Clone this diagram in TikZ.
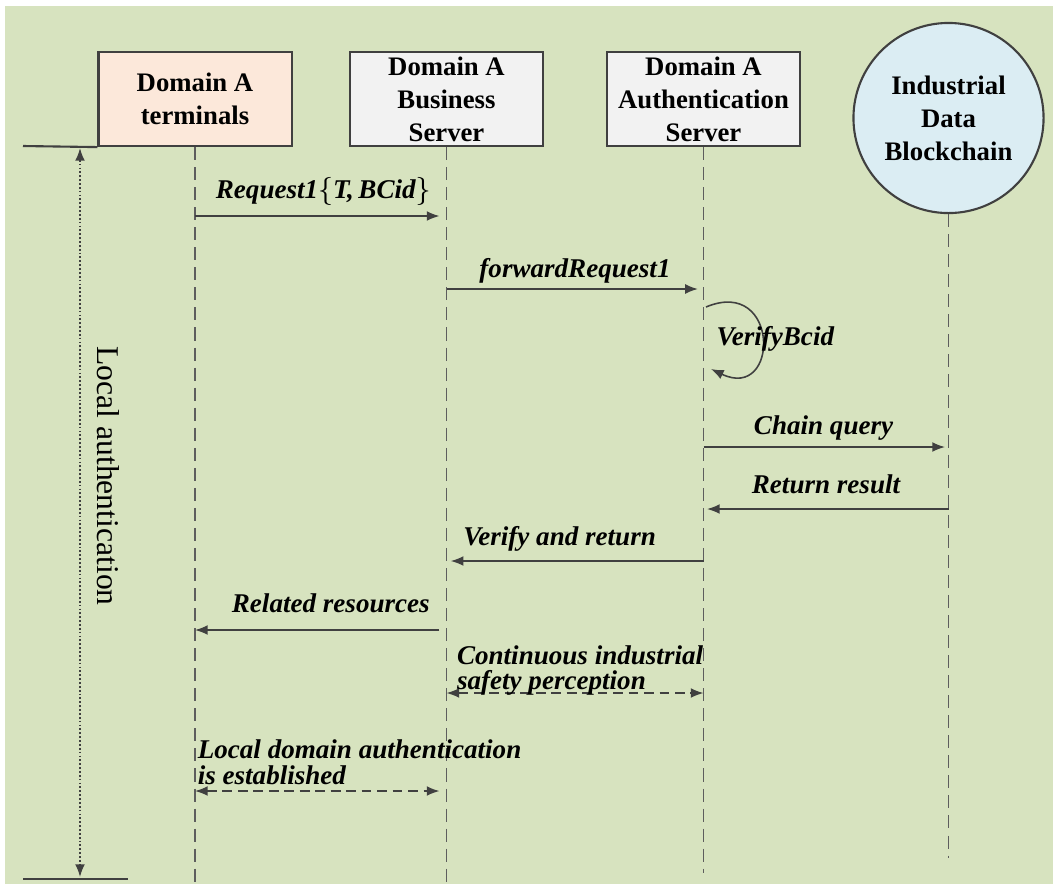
\documentclass[tikz,border=0pt]{standalone}
\usepackage{fontspec}
\setmainfont{Liberation Serif}
\usepackage{tikz}
\usetikzlibrary{arrows.meta}
\definecolor{bggreen}{RGB}{215,227,191}
\definecolor{termfill}{RGB}{252,232,218}
\definecolor{srvfill}{RGB}{242,242,242}
\definecolor{ledgerfill}{RGB}{219,237,243}
\definecolor{linegray}{RGB}{64,64,64}

\begin{document}
\begin{tikzpicture}[x=0.01cm, y=-0.01cm,
	actor/.style={draw=linegray, line width=0.6pt, minimum width=1.93cm, minimum height=0.94cm, inner sep=0pt, align=center, font=\fontsize{7.6}{9.4}\selectfont\bfseries},
	ledger/.style={circle, draw=linegray, line width=0.6pt, fill=ledgerfill, minimum size=1.9cm, inner sep=0pt, align=center, font=\fontsize{7.6}{9.4}\selectfont\bfseries},
	life/.style={draw=linegray!85, line width=0.5pt, dash pattern=on 3.7pt off 2pt},
	msg/.style={draw=linegray, line width=0.45pt, -{Latex[length=3.6pt,width=2.8pt]}},
	duplex/.style={draw=linegray, line width=0.45pt, dash pattern=on 2.8pt off 1.6pt, {Latex[length=3.6pt,width=2.8pt]}-{Latex[length=3.6pt,width=2.8pt]}},
	lbl/.style={font=\fontsize{7.7}{7.2}\selectfont\bfseries\itshape, inner sep=0pt, anchor=base}]
				% Background
				\useasboundingbox (0,0) rectangle (1055,884);
				\fill[white] (0,0) rectangle (1055,884);
				\fill[bggreen] (5,6) rectangle (1053,884);
				
				% Participants
				\node[actor, fill=termfill] (term) at (195,99) {Domain A\\terminals};
				\node[actor, fill=srvfill] (bus) at (446.5,99) {Domain A\\Business\\Server};
				\node[actor, fill=srvfill] (aut) at (703.5,99) {Domain A\\Authentication\\Server};
				\node[ledger] (idb) at (948.5,118) {Industrial\\Data\\Blockchain};
				
				% Lifelines
				\coordinate (termend) at (195,884);
				\coordinate (busend) at (446.5,884);
				\coordinate (autend) at (703.5,873);
				\coordinate (idbend) at (948.5,858);
				\draw[life] (term) -- (termend);
				\draw[life] (bus) -- (busend);
				\draw[life] (aut) -- (autend);
				\draw[life] (idb) -- (idbend);
				
				% Local authentication span
				\coordinate (topl) at (23,146);
				\coordinate (botl) at (23,879);
				\coordinate (botr) at (128,879);
				\coordinate (spantop) at (80,148);
				\coordinate (spanbot) at (80,877);
				\draw[linegray, line width=0.6pt] (topl) -- (term.south west);
				\draw[linegray, line width=0.6pt] (botl) -- (botr);
				\draw[linegray, line width=0.5pt, dash pattern=on 0.5pt off 0.6pt, {Latex[length=3.6pt,width=2.8pt]}-{Latex[length=3.6pt,width=2.8pt]}] (spantop) -- (spanbot);
				\node[rotate=-90, font=\fontsize{9}{10}\selectfont] (span) at (108,476) {Local authentication};
				
				% Message rows
				\coordinate (r1) at (0,216);
				\coordinate (r2) at (0,289);
				\coordinate (v1) at (706,307);
				\coordinate (v2) at (711,369);
				\coordinate (r3) at (0,447);
				\coordinate (r4) at (0,509);
				\coordinate (r5) at (0,561);
				\coordinate (r6) at (0,630);
				\coordinate (r7) at (0,693);
				\coordinate (r8) at (0,791);
				
				% Messages
				\draw[msg, shorten >=2pt] (term |- r1) -- node[lbl, pos=.51, yshift=5.1pt] (m1) {Request1$\{$\textit{T},\,\textit{BCid}$\}$} (bus |- r1);
				\draw[msg, shorten >=1.6pt] (bus |- r2) -- node[lbl, yshift=3.4pt] (m2) {forwardRequest1} (aut |- r2);
				\draw[msg] (v1) .. controls (780,276) and (780,402) .. (v2);
				\node[lbl, anchor=base west] (m3) at (716,345) {VerifyBcid};
				\draw[msg, shorten >=1pt] (aut |- r3) -- node[lbl, pos=.49, yshift=3.5pt] (m4) {Chain query} (idb |- r3);
				\draw[msg, shorten >=1pt] (idb |- r4) -- node[lbl, yshift=4.4pt] (m5) {Return result} (aut |- r4);
				\draw[msg, shorten >=1.2pt] (aut |- r5) -- node[lbl, pos=.56, yshift=4.4pt] (m6) {Verify and return} (bus |- r5);
				\draw[msg, shorten <=2pt] (bus |- r6) -- node[lbl, pos=.46, yshift=5.1pt] (m7) {Related resources} (term |- r6);
				\draw[duplex] (bus |- r7) -- (aut |- r7);
				\node[lbl, anchor=south west, align=left, yshift=-1pt, xshift=2.8pt] (m8) at (bus |- r7) {Continuous industrial\\safety perception};
				\draw[duplex, shorten >=2pt] (term |- r8) -- (bus |- r8);
				\node[lbl, anchor=south west, align=left, yshift=1.7pt, xshift=0.6pt] (m9) at (term |- r8) {Local domain authentication\\is established};
				
			\end{tikzpicture}
\end{document}
